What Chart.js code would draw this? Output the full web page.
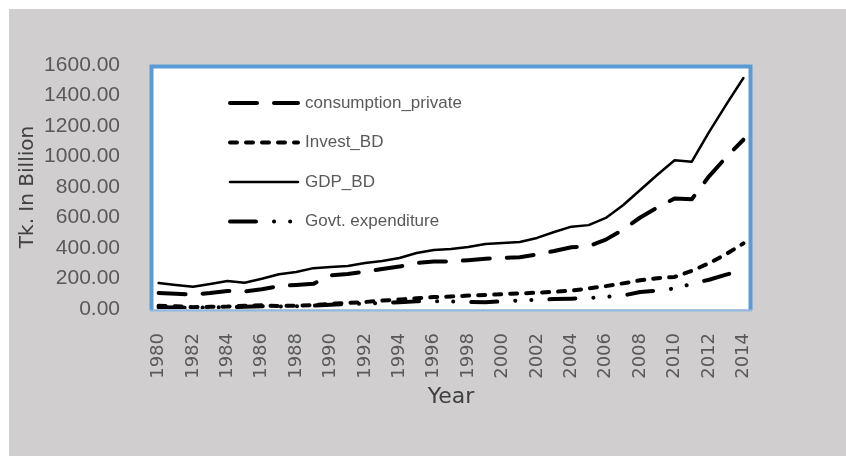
<!DOCTYPE html>
<html lang="en">

<head>
    <meta charset="UTF-8">
    <title>Consumption, Investment, GDP and Govt. expenditure</title>
    <script src="https://cdn.jsdelivr.net/npm/chart.js"></script>
    <style>
        body { margin: 0; background: #fff; }
    </style>
</head>

<body>
    <canvas id="myChart" width="846" height="456"></canvas>
    <script>
        const years = ['1980', '1981', '1982', '1983', '1984', '1985', '1986', '1987', '1988', '1989',
            '1990', '1991', '1992', '1993', '1994', '1995', '1996', '1997', '1998', '1999',
            '2000', '2001', '2002', '2003', '2004', '2005', '2006', '2007', '2008', '2009',
            '2010', '2011', '2012', '2013', '2014'];
        const consumptionPrivate = [105, 100, 95, 105, 118, 115, 130, 150, 158, 165,
            220, 230, 245, 262, 278, 302, 312, 312, 320, 330,
            335, 340, 358, 380, 405, 412, 455, 520, 600, 665,
            725, 720, 870, 995, 1110];
        const investBD = [22, 18, 12, 14, 16, 22, 24, 20, 22, 26,
            34, 40, 46, 55, 62, 70, 78, 82, 88, 92,
            98, 102, 107, 113, 120, 135, 150, 168, 188, 202,
            210, 250, 300, 360, 430];
        const gdpBD = [170, 157, 146, 164, 184, 172, 198, 228, 243, 268,
            275, 282, 302, 315, 334, 367, 387, 393, 407, 426,
            433, 439, 466, 505, 540, 550, 597, 680, 780, 880,
            975, 966, 1160, 1340, 1515];
        const govtExpenditure = [12, 10, 8, 10, 12, 15, 18, 16, 18, 22,
            28, 32, 36, 40, 45, 50, 52, 50, 46, 45,
            50, 56, 60, 65, 68, 72, 80, 88, 112, 120,
            135, 165, 192, 225, 258];
        const seriesNames = ['consumption_private', 'Invest_BD', 'GDP_BD', 'Govt. expenditure'];

        // gray page, white plot area with the blue frame
        const framePlugin = {
            id: 'frame',
            beforeDraw(chart) {
                const ctx = chart.ctx;
                ctx.save();
                ctx.fillStyle = '#ffffff';
                ctx.fillRect(0, 0, chart.width, chart.height);
                ctx.fillStyle = '#d0cece';
                ctx.fillRect(9, 9, chart.width - 9, chart.height - 9);
                ctx.restore();
            },
            beforeDatasetsDraw(chart) {
                const ctx = chart.ctx;
                const a = chart.chartArea;
                ctx.save();
                ctx.fillStyle = '#ffffff';
                ctx.fillRect(a.left, a.top, a.right - a.left, a.bottom - a.top);
                ctx.strokeStyle = '#5b9bd5';
                ctx.lineWidth = 4;
                ctx.beginPath();
                ctx.moveTo(a.left + 1.5, a.bottom + 1);
                ctx.lineTo(a.left + 1.5, a.top + 1.5);
                ctx.lineTo(a.right - 1.5, a.top + 1.5);
                ctx.lineTo(a.right - 1.5, a.bottom + 1);
                ctx.stroke();
                ctx.strokeStyle = '#8fb8e2';
                ctx.lineWidth = 2;
                ctx.beginPath();
                ctx.moveTo(a.left, a.bottom + 1.5);
                ctx.lineTo(a.right, a.bottom + 1.5);
                ctx.stroke();
                ctx.restore();
            }
        };

        // legend sits inside the plot, drawn with the dataset line styles
        const legendPlugin = {
            id: 'innerLegend',
            afterDatasetsDraw(chart) {
                const ctx = chart.ctx;
                const a = chart.chartArea;
                ctx.save();
                chart.data.datasets.forEach((ds, i) => {
                    const y = a.top + 38 + i * 39.5;
                    ctx.beginPath();
                    ctx.setLineDash(ds.borderDash || []);
                    ctx.lineWidth = ds.borderWidth;
                    ctx.lineCap = ds.borderCapStyle;
                    ctx.strokeStyle = ds.borderColor;
                    ctx.moveTo(a.left + 80, y);
                    ctx.lineTo(a.left + 148, y);
                    ctx.stroke();
                    ctx.setLineDash([]);
                    ctx.fillStyle = '#595959';
                    ctx.font = '17px "Liberation Sans"';
                    ctx.textBaseline = 'middle';
                    ctx.fillText(ds.label, a.left + 155, y);
                });
                ctx.restore();
            }
        };

        function lineSet(label, data, dash, width) {
            return {
                label: label,
                data: data,
                borderColor: '#000000',
                borderWidth: width,
                borderDash: dash,
                borderCapStyle: 'round',
                borderJoinStyle: 'round',
                pointRadius: 0,
                fill: false,
                tension: 0
            };
        }

        const ctx = document.getElementById('myChart');
        new Chart(ctx, {
            type: 'line',
            data: {
                labels: years,
                datasets: [
                    lineSet(seriesNames[0], consumptionPrivate, [27, 17], 4),
                    lineSet(seriesNames[1], investBD, [7, 9], 4),
                    lineSet(seriesNames[2], gdpBD, [], 2.5),
                    lineSet(seriesNames[3], govtExpenditure, [26, 18, 0.1, 16, 0.1, 18], 4)
                ]
            },
            options: {
                responsive: false,
                animation: false,
                layout: { padding: { left: 9, right: 94, top: 65, bottom: 0 } },
                plugins: {
                    legend: { display: false },
                    tooltip: { enabled: false }
                },
                scales: {
                    x: {
                        offset: true,
                        grid: { display: false },
                        border: { display: false },
                        ticks: {
                            autoSkip: false,
                            minRotation: 90,
                            maxRotation: 90,
                            padding: 16,
                            color: '#595959',
                            font: { family: '"DejaVu Sans"', size: 18 },
                            callback: (v, i) => (i % 2 === 0 ? years[i] : '')
                        },
                        title: {
                            display: true,
                            text: 'Year',
                            color: '#404040',
                            font: { family: '"DejaVu Sans"', size: 22 },
                            padding: { top: 0, bottom: 46 }
                        },
                        afterFit: (scale) => { scale.height = 147; }
                    },
                    y: {
                        min: 0,
                        max: 1600,
                        grid: { display: false },
                        border: { display: false },
                        ticks: {
                            stepSize: 200,
                            padding: 22,
                            color: '#595959',
                            font: { family: '"Liberation Sans"', size: 21 },
                            callback: (v) => v.toFixed(2)
                        },
                        title: {
                            display: true,
                            text: 'Tk. In Billion',
                            color: '#404040',
                            font: { family: '"DejaVu Sans"', size: 20 },
                            padding: { top: 7, bottom: 0 }
                        },
                        afterFit: (scale) => { scale.width = 141; }
                    }
                }
            },
            plugins: [framePlugin, legendPlugin]
        });
    </script>
</body>

</html>
